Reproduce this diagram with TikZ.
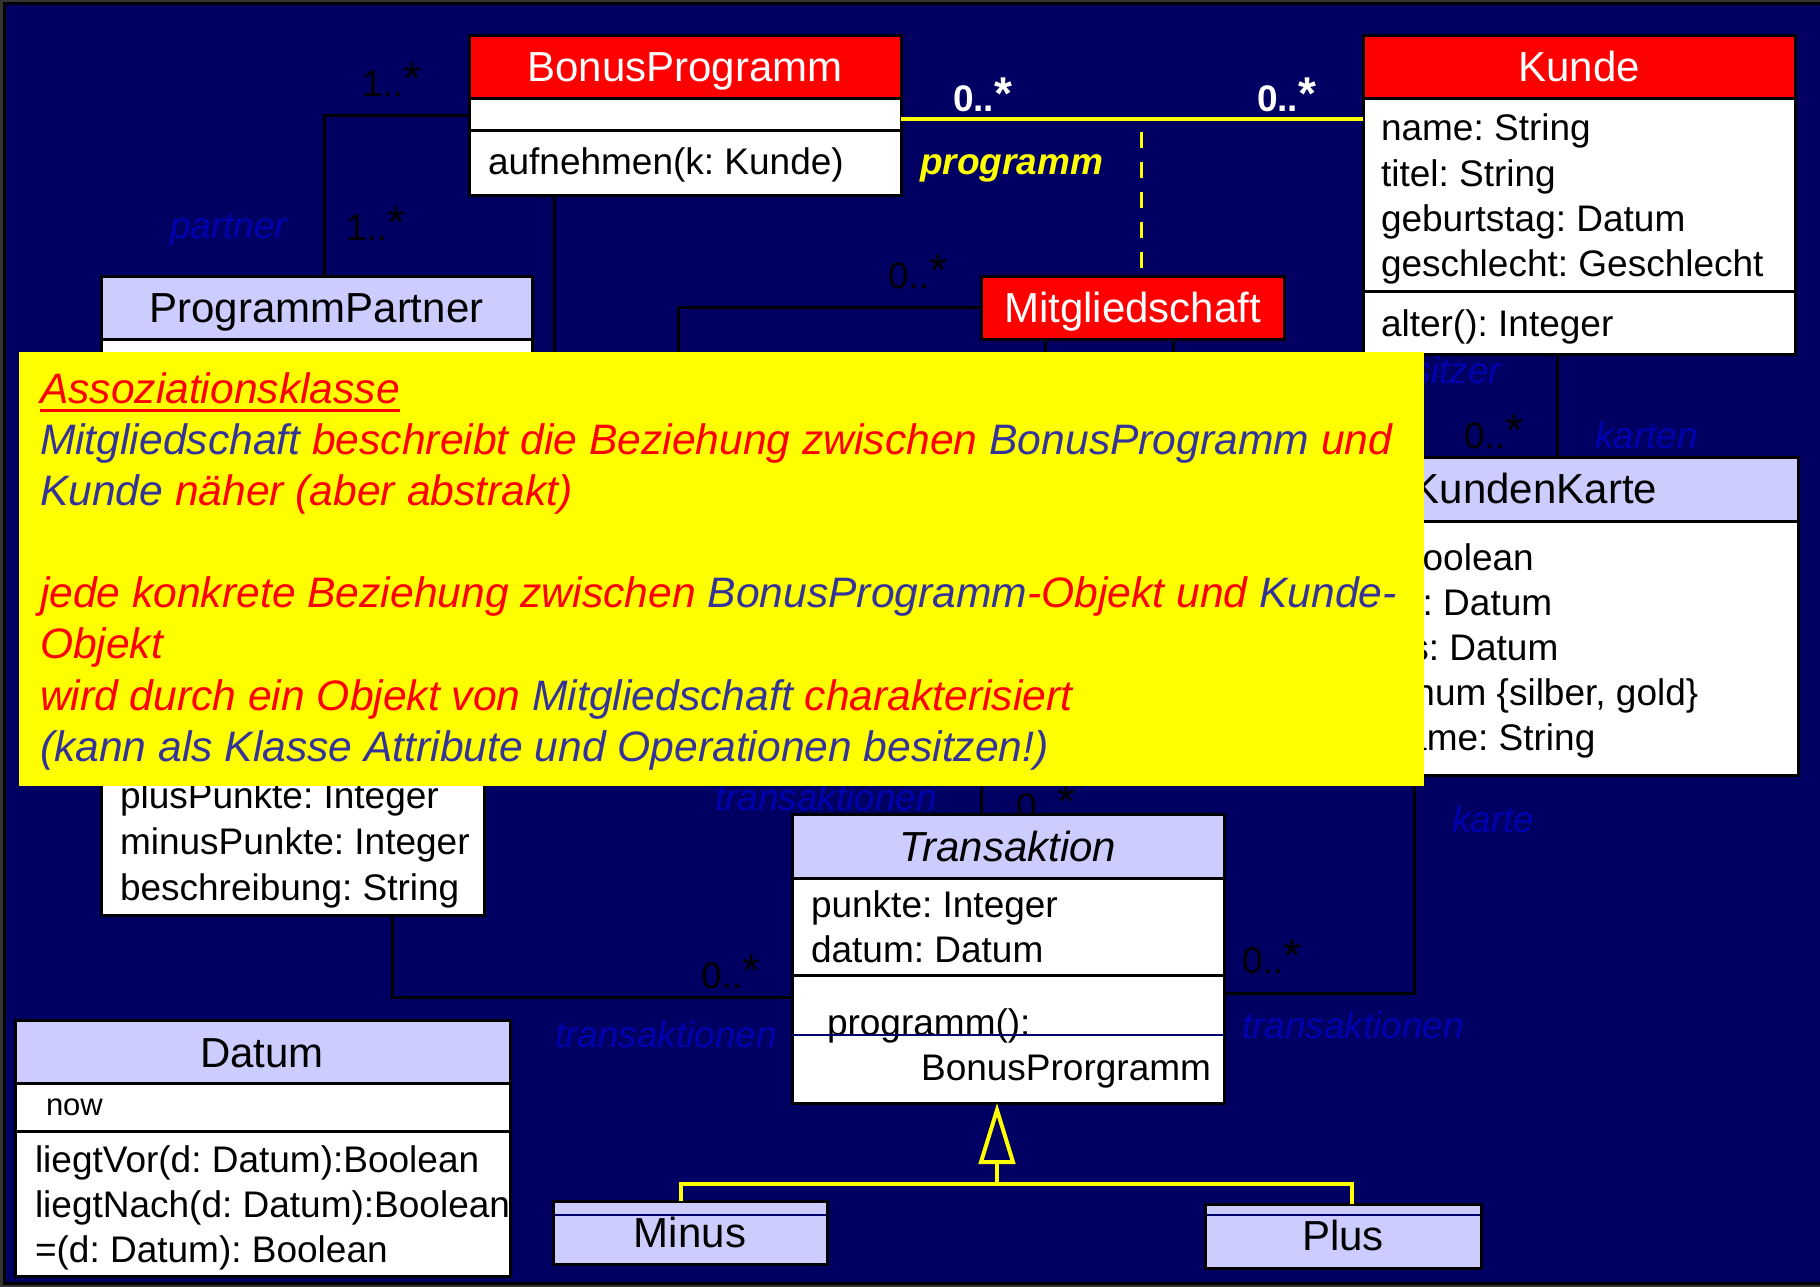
\documentclass[tikz,border=0pt]{standalone}
\usepackage{fontspec}
\setmainfont{Liberation Sans}
\usetikzlibrary{fit,calc}
\frenchspacing

\definecolor{navybg}{RGB}{0,0,98}
\definecolor{umlred}{RGB}{255,0,0}
\definecolor{lavender}{RGB}{204,204,255}
\definecolor{rolecol}{RGB}{0,0,176}
\definecolor{noteblue}{RGB}{51,51,153}
\definecolor{noteyellow}{RGB}{255,255,0}
\definecolor{umlyellow}{RGB}{255,255,0}
\definecolor{thinnavy}{RGB}{0,0,110}

\newcommand\umlbody{\fontsize{37pt}{44pt}\selectfont}
\newcommand\umltitle{\fontsize{42pt}{50pt}\selectfont}
\newcommand\umlstar{\raisebox{2pt}{\fontsize{46pt}{46pt}\selectfont *}}

\begin{document}
\begin{tikzpicture}[x=1pt,y=-1pt,
  classframe/.style={draw=black, line width=3pt, inner sep=0pt, outer sep=0pt, fit={#1}},
  divider/.style={line width=3pt, black},
  thinrule/.style={line width=1.5pt, thinnavy},
  clstitle/.style={font=\umltitle, inner sep=0pt, outer sep=0pt, anchor=base},
  clsbody/.style={font=\umlbody, inner sep=0pt, outer sep=0pt, anchor=base west},
  multlabel/.style={font=\umlbody, text=black, inner sep=0pt, outer sep=0pt, anchor=base west},
  boldmult/.style={font=\umlbody\bfseries, text=white, inner sep=0pt, outer sep=0pt, anchor=base west},
  rolelabel/.style={font=\umlbody\itshape, text=rolecol, inner sep=0pt, outer sep=0pt, anchor=base west},
  conn/.style={line width=3pt, black},
  assocline/.style={line width=4pt, umlyellow},
  genline/.style={line width=4pt, umlyellow},
  notetext/.style={font=\fontsize{42.6pt}{51pt}\selectfont\itshape, text=umlred, inner sep=0pt, outer sep=0pt, anchor=base west}
]
\useasboundingbox (0,0) rectangle (1820,1287);

% slide frame and background
\fill[black!80] (0,0) rectangle (1820,1287);
\fill[black] (3,2) rectangle (1820,1285);
\fill[navybg] (6,5) rectangle (1820,1282);

% multiplicities and role names (drawn first, boxes may overlap them)
\node[multlabel] (m-bp-pp1) at (362,97) {1..\umlstar};
\node[multlabel] (m-bp-pp2) at (346,240) {1..\umlstar};
\node[rolelabel] (r-partner) at (170,238) {partner};
\node[multlabel] (m-mg) at (888,288) {0..\umlstar};
\node[multlabel] (m-tr-top) at (1016,819) {0..\umlstar};
\node[rolelabel] (r-tr-top) at (715,810) {transaktionen};
\node[multlabel] (m-tr-left) at (701,988) {0..\umlstar};
\node[rolelabel] (r-tr-left) at (555,1047) {transaktionen};
\node[multlabel] (m-tr-right) at (1242,973) {0..\umlstar};
\node[rolelabel] (r-tr-right) at (1242,1038) {transaktionen};
\node[rolelabel] (r-karte) at (1452,832) {karte};
\node[multlabel] (m-kk) at (1464,448) {0..\umlstar};
\node[rolelabel] (r-karten) at (1595,448) {karten};
\node[rolelabel, anchor=base east] (r-besitzer) at (1501,383) {besitzer};
\node[boldmult] (m-prog1) at (953,112) {0..\umlstar};
\node[boldmult] (m-prog2) at (1257,112) {0..\umlstar};
\node[font=\umlbody\bfseries\itshape, text=umlyellow, inner sep=0pt, anchor=base west] (r-programm) at (920,175) {programm};

% BonusProgramm
\fill[white] (469,36) rectangle (901,195);
\fill[umlred] (469,36) rectangle (901,99);
\draw[divider] (469,99) -- (901,99) (469,131) -- (901,131);
\node[classframe={(469,36) (901,195)}] (bp) {};
\node[clstitle, text=white] (bp-name) at (685,82) {BonusProgramm};
\node[clsbody] (bp-op) at (488,175) {aufnehmen(k: Kunde)};

% Kunde
\fill[white] (1363,36) rectangle (1795,354);
\fill[umlred] (1363,36) rectangle (1795,99);
\draw[divider] (1363,99) -- (1795,99) (1363,291) -- (1795,291);
\node[classframe={(1363,36) (1795,354)}] (ku) {};
\node[clstitle, text=white] (ku-name) at (1579,82) {Kunde};
\node[clsbody] (ku-a1) at (1381,141) {name: String};
\node[clsbody] (ku-a2) at (1381,186) {titel: String};
\node[clsbody] (ku-a3) at (1381,231) {geburtstag: Datum};
\node[clsbody] (ku-a4) at (1381,276) {geschlecht: Geschlecht};
\node[clsbody] (ku-op) at (1381,336) {alter(): Integer};

% Mitgliedschaft
\fill[umlred] (981,276) rectangle (1284,339);
\node[classframe={(981,276) (1284,339)}] (mg) {};
\node[clstitle, text=white] (mg-name) at (1132.5,322) {Mitgliedschaft};

% ProgrammPartner
\fill[white] (101,276) rectangle (532,430);
\fill[lavender] (101,276) rectangle (532,339);
\draw[divider] (101,339) -- (532,339);
\node[classframe={(101,276) (532,430)}] (pp) {};
\node[clstitle] (pp-name) at (316.5,322) {ProgrammPartner};

% class with point attributes
\fill[white] (101,450) rectangle (484,915);
\node[classframe={(101,450) (484,915)}] (pk) {};
\node[clsbody] (pk-a1) at (120,808) {plusPunkte: Integer};
\node[clsbody] (pk-a2) at (120,854) {minusPunkte: Integer};
\node[clsbody] (pk-a3) at (120,900) {beschreibung: String};

% KundenKarte
\fill[white] (1271,457) rectangle (1798,775);
\fill[lavender] (1271,457) rectangle (1798,521);
\draw[divider] (1271,521) -- (1798,521);
\node[classframe={(1271,457) (1798,775)}] (kk) {};
\node[clstitle] (kk-name) at (1534.5,503) {KundenKarte};
\node[clsbody] (kk-a1) at (1289,570) {gültig: Boolean};
\node[clsbody] (kk-a2) at (1289,615) {gültigAb: Datum};
\node[clsbody] (kk-a3) at (1289,660) {gültigBis: Datum};
\node[clsbody] (kk-a4) at (1289,705) {farbe: enum \{silber, gold\}};
\node[clsbody] (kk-a5) at (1289,750) {druckName: String};

% Transaktion
\fill[white] (792,814) rectangle (1224,1103);
\fill[lavender] (792,814) rectangle (1224,878);
\draw[divider] (792,878) -- (1224,878) (792,975) -- (1224,975);
\node[classframe={(792,814) (1224,1103)}] (tr) {};
\node[clstitle, font=\umltitle\itshape] (tr-name) at (1008,861) {Transaktion};
\node[clsbody] (tr-a1) at (811,917) {punkte: Integer};
\node[clsbody] (tr-a2) at (811,962) {datum: Datum};
\node[clsbody] (tr-op1) at (827,1035) {programm():};
\node[clsbody, anchor=base east] (tr-op2) at (1211,1080) {BonusProrgramm};
\draw[thinrule] (tr.west |- 0,1035) -- (tr.east |- 0,1035);

% Datum
\fill[white] (15,1020) rectangle (510,1276);
\fill[lavender] (15,1020) rectangle (510,1083);
\draw[divider] (15,1083) -- (510,1083) (15,1131) -- (510,1131);
\node[classframe={(15,1020) (510,1276)}] (da) {};
\node[clstitle] (da-name) at (262,1067) {Datum};
\node[clsbody, font=\fontsize{31pt}{37pt}\selectfont] (da-a1) at (46,1115) {now};
\node[clsbody] (da-op1) at (35,1172) {liegtVor(d: Datum):Boolean};
\node[clsbody] (da-op2) at (35,1217) {liegtNach(d: Datum):Boolean};
\node[clsbody] (da-op3) at (35,1262) {=(d: Datum): Boolean};

% Minus and Plus
\fill[lavender] (553,1201) rectangle (827,1264);
\draw[thinrule] (553,1215) -- (827,1215);
\node[classframe={(553,1201) (827,1264)}] (mi) {};
\node[clstitle] (mi-name) at (690,1247) {Minus};
\fill[lavender] (1205,1204) rectangle (1481,1268);
\draw[thinrule] (1205,1215) -- (1481,1215);
\node[classframe={(1205,1204) (1481,1268)}] (pl) {};
\node[clstitle] (pl-name) at (1343,1250) {Plus};

% associations
\draw[conn] (bp.west) -| ([xshift=8pt]pp.north);
\coordinate (bp-down) at (554,440);
\draw[conn] ([xshift=-131pt]bp.south) -- (bp-down);
\coordinate (mg-down) at (678,440);
\draw[conn] (mg.west) -| (mg-down);
\coordinate (mg-down2) at (1045.5,440);
\coordinate (mg-down3) at (1173.5,440);
\draw[conn] (mg.south -| mg-down2) -- (mg-down2);
\draw[conn] (mg.south -| mg-down3) -- (mg-down3);
\coordinate (tr-up) at (981,720);
\draw[conn] ([xshift=-27pt]tr.north) -- (tr-up);
\draw[conn] ([xshift=99.5pt]pk.south) |- ([yshift=-38.5pt]tr.west);
\draw[conn] ([xshift=-120.5pt]kk.south) |- ([yshift=-34.5pt]tr.east);
\draw[conn] ([xshift=-22pt]ku.south) -- ([xshift=-22pt]ku.south |- kk.north);

% association BonusProgramm -- Kunde with association class
\draw[assocline] ([yshift=-3.5pt]bp.east) -- ([yshift=-3.5pt]bp.east -| ku.west);
\coordinate (ac) at (1141,132);
\draw[umlyellow, line width=3pt, dash pattern=on 16pt off 14pt] (ac) -- (mg.north -| ac);

% generalisation Minus / Plus -> Transaktion
\coordinate (tri) at ([xshift=-11pt,yshift=-7pt]tr.south);
\coordinate (join) at (997,1184);
\draw[genline] ([xshift=-9pt]mi.north) |- (join) -| ([xshift=9pt]pl.north);
\draw[genline] (join) -- ($(tri)+(0,52)$);
\draw[genline, fill=navybg] (tri) -- ($(tri)+(-16,52)$) -- ($(tri)+(16,52)$) -- cycle;

% note
\node[fill=noteyellow, inner sep=0pt, outer sep=0pt, fit={(19,352) (1424,786)}] (note) {};
\node[notetext] (nl1) at (40,403) {Assoziationsklasse};
\draw[umlred, line width=3pt] ([yshift=-7pt]nl1.base west) -- ([yshift=-7pt]nl1.base east);
\node[notetext] (nl2) at (40,454) {\textcolor{noteblue}{Mitgliedschaft} beschreibt die Beziehung zwischen \textcolor{noteblue}{BonusProgramm} und};
\node[notetext] (nl3) at (40,505) {\textcolor{noteblue}{Kunde} näher (aber abstrakt)};
\node[notetext] (nl4) at (40,607) {jede konkrete Beziehung zwischen \textcolor{noteblue}{BonusProgramm}-Objekt und \textcolor{noteblue}{Kunde-}};
\node[notetext] (nl5) at (40,658) {Objekt};
\node[notetext] (nl6) at (40,710) {wird durch ein Objekt von \textcolor{noteblue}{Mitgliedschaft} charakterisiert};
\node[notetext, text=noteblue] (nl7) at (40,761) {(kann als Klasse Attribute und Operationen besitzen!)};
\end{tikzpicture}
\end{document}
